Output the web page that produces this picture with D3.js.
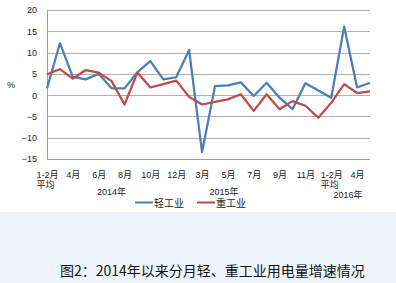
<!DOCTYPE html>
<html><head><meta charset="utf-8">
<script src="https://cdn.jsdelivr.net/npm/d3@7"></script>
<style>body{margin:0;background:#fff;}svg{display:block;}</style>
</head><body>
<svg id="c" width="396" height="283"></svg>
<script>
const months = ["1-2月|平均","3月","4月","5月","6月","7月","8月","9月","10月","11月","12月",
  "1-2月|平均","3月","4月","5月","6月","7月","8月","9月","10月","11月","12月",
  "1-2月|平均","3月","4月","5月"];
const light = [1.6,12.2,4.3,3.7,5.0,1.6,1.6,5.4,8.0,3.7,4.2,10.6,-13.4,2.1,2.3,3.0,-0.2,2.9,-0.6,-3.3,2.8,1.1,-0.6,16.1,1.8,2.9];
const heavy = [4.9,6.1,3.9,5.9,5.3,3.3,-2.2,5.3,1.8,2.6,3.4,-0.4,-2.2,-1.6,-1.0,0.2,-3.7,0.2,-3.3,-1.4,-2.5,-5.3,-1.8,2.6,0.5,0.9];
const yTicks = [-15,-10,-5,0,5,10,15,20];
const years = ["2014年","2015年","2016年"];
const yearAnchor = [5, 13.7, 23.3];
const seriesNames = ["轻工业","重工业"];
const colors = ["#4a7ebb","#be4b48"];
const caption = "图2：2014年以来分月轻、重工业用电量增速情况";

const svg = d3.select("#c");
const font = "'Liberation Sans', 'Noto Sans CJK SC', sans-serif";
const capFont = "'Noto Sans CJK SC', sans-serif";
svg.append("rect").attr("x",0).attr("y",212).attr("width",396).attr("height",71).attr("fill","#eef5fc");

const x = d3.scalePoint().domain(d3.range(months.length)).range([47,370]);
const y = d3.scaleLinear().domain([-15,20]).range([159,10]);

// gridlines
svg.append("g").selectAll("line").data(yTicks).join("line")
  .attr("x1",47).attr("x2",370)
  .attr("y1",d=>Math.round(y(d))+0.5).attr("y2",d=>Math.round(y(d))+0.5)
  .attr("stroke",d=>d===-15?"#9c9c9c":"#b0b0b0").attr("stroke-width",1);
svg.append("line").attr("x1",47.5).attr("x2",47.5).attr("y1",Math.round(y(20))+0.5).attr("y2",Math.round(y(-15))+0.5)
  .attr("stroke","#9c9c9c");

// y axis
const ya = svg.append("g").attr("transform","translate(37,0)")
  .call(d3.axisLeft(y).tickValues(yTicks).tickSize(0).tickPadding(0));
ya.select(".domain").remove();
ya.selectAll("text").attr("font-family",font).attr("font-size",9).attr("fill","#222");
svg.append("text").attr("x",11).attr("y",88).attr("text-anchor","middle")
  .attr("font-family",font).attr("font-size",9).attr("fill","#222").text("%");

// x axis
const xa = svg.append("g").attr("transform","translate(0,169)")
  .call(d3.axisBottom(x).tickValues(d3.range(0,months.length,2)).tickSize(0).tickPadding(0).tickFormat(""));
xa.select(".domain").remove();
xa.selectAll(".tick").each(function(i){
  const parts = months[i].split("|");
  const g = d3.select(this);
  g.select("text").remove();
  parts.forEach((p,k)=>{
    g.append("text").attr("x",k===0?0:-2).attr("y",9+k*9.5).attr("text-anchor","middle")
      .attr("font-family",font).attr("font-size",9).attr("fill","#222").text(p);
  });
});
svg.append("g").selectAll("text").data(years).join("text")
  .attr("x",(d,i)=>x(0)+(x(1)-x(0))*yearAnchor[i])
  .attr("y",(d,i)=>i===2?197.5:194.5).attr("text-anchor","middle")
  .attr("font-family",font).attr("font-size",9).attr("fill","#222").text(d=>d);

// lines
const line = d3.line().x((d,i)=>x(i)).y(d=>y(d));
[light,heavy].forEach((s,k)=>{
  svg.append("path").datum(s).attr("d",line).attr("fill","none")
    .attr("stroke",colors[k]).attr("stroke-width",2.25).attr("stroke-linejoin","round");
});

// legend
const lg = svg.append("g");
const lx = [135,197];
seriesNames.forEach((n,k)=>{
  lg.append("line").attr("x1",lx[k]).attr("x2",lx[k]+18).attr("y1",202.5).attr("y2",202.5)
    .attr("stroke",colors[k]).attr("stroke-width",2);
  lg.append("text").attr("x",lx[k]+19).attr("y",206.5).attr("font-family",font).attr("font-size",10)
    .attr("fill","#222").text(n);
});

svg.append("text").attr("x",60).attr("y",276).attr("font-family",capFont).attr("font-size",14)
  .attr("fill","#111").text(caption);
</script>
</body></html>
